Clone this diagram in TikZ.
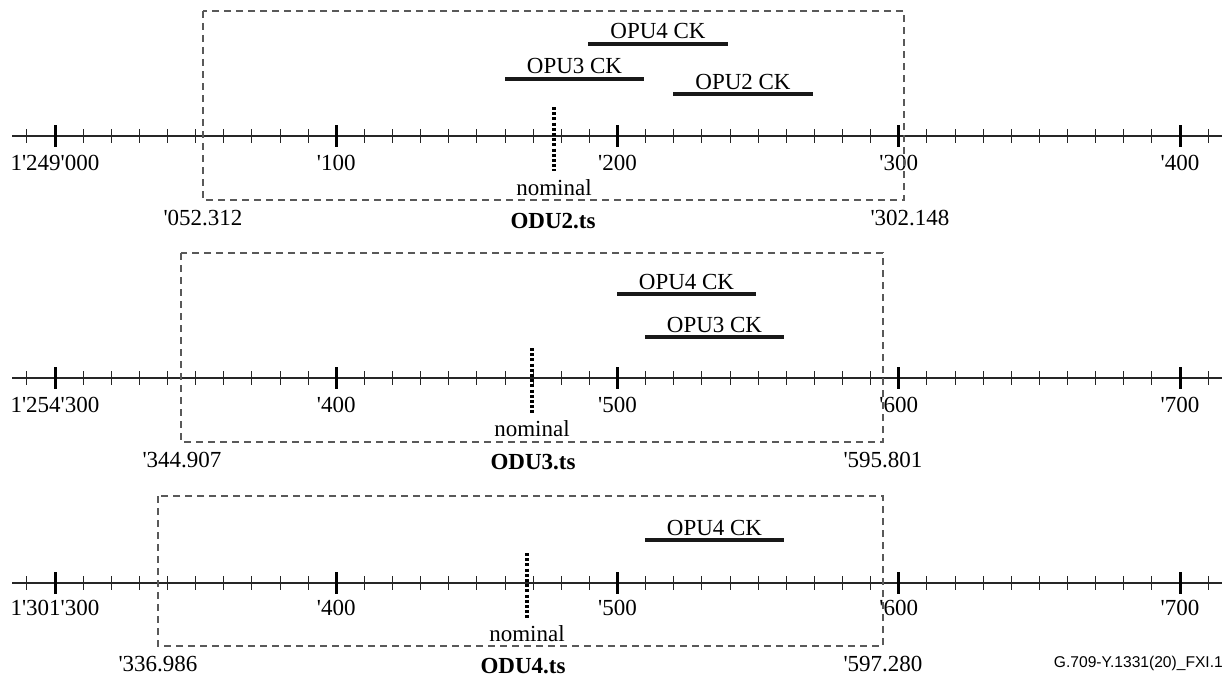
\documentclass[tikz,border=0pt]{standalone}
\usepackage{fontspec}
\setmainfont{Liberation Serif}
\newfontfamily\footfont{Liberation Sans}
\newcommand\q{\textquotesingle}
\newcommand\axisrow[8]{%
  % #1 prefix, #2 axis y, #3 label baseline, #4-#8 labels
  \draw[axisline] (12,#2) -- (1222,#2);
  \foreach \k in {-1,...,41} {\draw[minortick] ({55+\k*28.125},{#2-7}) -- ({55+\k*28.125},{#2+7});}
  \foreach \xx in {55,336.25,617.5,898.75,1180} {\draw[majortick] (\xx,{#2-11}) -- (\xx,{#2+11});}
  \node[lbl] (#1a) at (55,#3) {#4};
  \node[lbl] (#1b) at (336.25,#3) {#5};
  \node[lbl] (#1c) at (617.5,#3) {#6};
  \node[lbl] (#1d) at (898.75,#3) {#7};
  \node[lbl] (#1e) at (1180,#3) {#8};
}
\newcommand\ckbar[5]{%
  % #1 name, #2 x1, #3 x2, #4 y, #5 text
  \draw[bar] (#2,#4) -- (#3,#4);
  \node[lbl] (#1) at ({(#2+#3)/2},{#4-5}) {#5};
}
\begin{document}
\begin{tikzpicture}[x=1pt,y=-1pt,
  lbl/.style={font=\fontsize{23}{27}\selectfont, inner sep=0pt, anchor=base},
  boldlbl/.style={lbl, font=\fontsize{23}{27}\selectfont\bfseries},
  axisline/.style={line width=1.3pt, black!85},
  minortick/.style={line width=1pt, black!85},
  majortick/.style={line width=3pt, black},
  bar/.style={line width=3.5pt, black!90},
  window/.style={draw=black!65, line width=1.2pt, dash pattern=on 7pt off 5pt},
  nominalline/.style={line width=3.2pt, black, dash pattern=on 3pt off 2.2pt}]
\useasboundingbox (0,0) rectangle (1228,677);

% ---------------- Row 1 : ODU2.ts ----------------
\axisrow{r1}{136}{170}{1\q249\q000}{\q100}{\q200}{\q300}{\q400}
\draw[window] (203,11) rectangle (904,200);
\draw[nominalline] (554,107) -- (554,171);
\node[lbl] (nom1) at (554,195) {nominal};
\ckbar{r1opu4}{588}{728}{44}{OPU4 CK}
\ckbar{r1opu3}{505}{644}{79}{OPU3 CK}
\ckbar{r1opu2}{673}{813}{94}{OPU2 CK}
\node[lbl] (r1lo) at (203,225) {\q052.312};
\node[lbl] (r1hi) at (910,225) {\q302.148};
\node[boldlbl] (odu2) at (553,228) {ODU2.ts};

% ---------------- Row 2 : ODU3.ts ----------------
\axisrow{r2}{378}{412}{1\q254\q300}{\q400}{\q500}{\q600}{\q700}
\draw[window] (181,253) rectangle (883,442);
\draw[nominalline] (532,348) -- (532,413);
\node[lbl] (nom2) at (532,436) {nominal};
\ckbar{r2opu4}{617}{756}{294}{OPU4 CK}
\ckbar{r2opu3}{645}{784}{337}{OPU3 CK}
\node[lbl] (r2lo) at (182,467) {\q344.907};
\node[lbl] (r2hi) at (883,467) {\q595.801};
\node[boldlbl] (odu3) at (533,469) {ODU3.ts};

% ---------------- Row 3 : ODU4.ts ----------------
\axisrow{r3}{583}{615}{1\q301\q300}{\q400}{\q500}{\q600}{\q700}
\draw[window] (158,496) rectangle (883,646);
\draw[nominalline] (527,553) -- (527,618);
\node[lbl] (nom3) at (527,641) {nominal};
\ckbar{r3opu4}{645}{784}{540}{OPU4 CK}
\node[lbl] (r3lo) at (158,671) {\q336.986};
\node[lbl] (r3hi) at (883,671) {\q597.280};
\node[boldlbl] (odu4) at (523,673) {ODU4.ts};

\node[inner sep=0pt, anchor=base east, font=\footfont\fontsize{15.6}{18}\selectfont] (fig) at (1223,667) {G.709-Y.1331(20)\_FXI.1};
\end{tikzpicture}
\end{document}
